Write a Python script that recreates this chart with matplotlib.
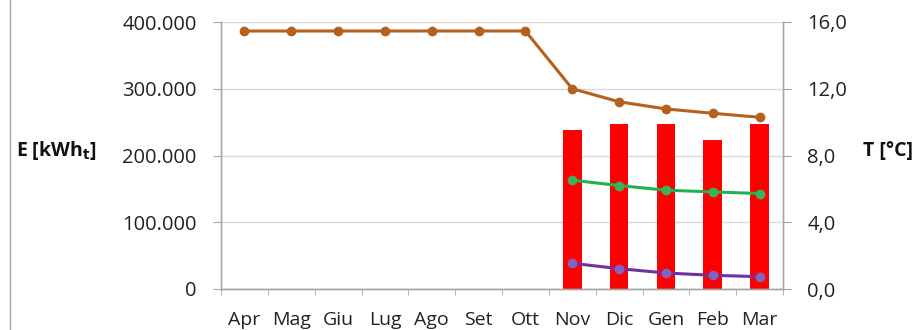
import matplotlib
matplotlib.use("Agg")
import matplotlib.pyplot as plt
from matplotlib.ticker import FuncFormatter, FixedLocator
from matplotlib.lines import Line2D
import numpy as np

months = ["Apr", "Mag", "Giu", "Lug", "Ago", "Set", "Ott", "Nov", "Dic", "Gen", "Feb", "Mar"]

# monthly thermal energy (kWh_t), heating season only
energy = [None, None, None, None, None, None, None, 238500, 246600, 246600, 223000, 246600]

# temperatures (°C)
t_brown = [15.46, 15.46, 15.46, 15.46, 15.46, 15.46, 15.46, 12.0, 11.22, 10.79, 10.53, 10.29]
t_green = [None, None, None, None, None, None, None, 6.52, 6.20, 5.92, 5.82, 5.72]
t_purple = [None, None, None, None, None, None, None, 1.54, 1.22, 0.96, 0.82, 0.74]

e_ticks = [0, 100000, 200000, 300000, 400000]
t_ticks = [0.0, 4.0, 8.0, 12.0, 16.0]

plt.rcParams["font.family"] = ["Open Sans", "DejaVu Sans"]

fig = plt.figure(figsize=(9.14, 3.30), dpi=100)
ax = fig.add_axes([221 / 914, 1 - 289 / 330, (783 - 221) / 914, (289 - 22) / 330])
ax2 = ax.twinx()

x = np.arange(len(months))

def valid(vals):
    idx = [i for i, v in enumerate(vals) if v is not None]
    return np.array(idx), np.array([vals[i] for i in idx])

bx, by = valid(energy)
ax.bar(bx, by, width=0.4, color="#FF0000", zorder=2)

ax.set_xlim(-0.5, len(months) - 0.5)
ax.set_ylim(0, 400000)
ax.set_yticks(e_ticks)
ax.yaxis.set_major_formatter(FuncFormatter(lambda v, p: f"{int(v):,}".replace(",", ".")))
ax.set_xticks(x)
ax.set_xticklabels(months)
ax.xaxis.set_minor_locator(FixedLocator(np.arange(-0.5, len(months), 1.0)))
ax.tick_params(axis="x", which="major", length=0, pad=16, labelsize=14, colors="#222222")
ax.tick_params(axis="x", which="minor", length=4.5, color="#A6A6A6", direction="out")
ax.tick_params(axis="y", length=5.5, color="#A6A6A6", labelsize=14.5, labelcolor="#222222", pad=12)
ax.grid(axis="y", color="#D9D9D9", linewidth=1, zorder=0)
ax.set_axisbelow(True)

for a in (ax, ax2):
    a.spines["top"].set_visible(False)
    for sp in ["left", "right", "bottom"]:
        a.spines[sp].set_color("#A6A6A6")
        a.spines[sp].set_linewidth(1)

ax2.set_ylim(0, 16)
ax2.set_yticks(t_ticks)
ax2.yaxis.set_major_formatter(FuncFormatter(lambda v, p: f"{v:.1f}".replace(".", ",")))
ax2.tick_params(axis="y", length=5.5, color="#A6A6A6", labelsize=14.5, labelcolor="#222222", pad=12)

ax2.plot(x, t_brown, color="#B5601C", linewidth=2.2, marker="o", markersize=6, zorder=3)
gx, gy = valid(t_green)
ax2.plot(gx, gy, color="#22B14C", linewidth=2.2, marker="o", markersize=6,
         markerfacecolor="#3CB35A", markeredgecolor="#3CB35A", zorder=3)
px, py = valid(t_purple)
ax2.plot(px, py, color="#7030A0", linewidth=2.2, marker="o", markersize=6,
         markerfacecolor="#8064C0", markeredgecolor="#8064C0", zorder=3)

fig.text(16 / 914, 1 - 151 / 330, r"E [kWh$_{\mathbf{t}}$]", fontsize=14, fontweight="bold",
         ha="left", va="center", color="#111111")
fig.text(863 / 914, 1 - 151 / 330, "T [°C]", fontsize=14, fontweight="bold",
         ha="left", va="center", color="#111111")

fig.add_artist(Line2D([10 / 914, 10 / 914], [0, 1], transform=fig.transFigure,
                      color="#A6A6A6", linewidth=1))

fig.savefig("out.png", dpi=100)
